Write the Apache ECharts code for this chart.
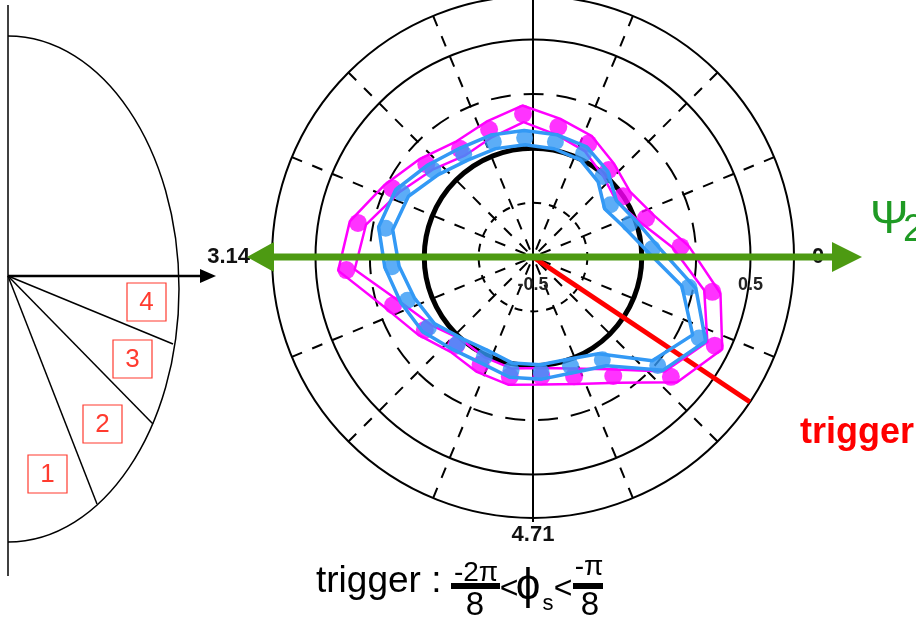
<!DOCTYPE html>
<html>
<head>
<meta charset="utf-8">
<script src="https://cdn.jsdelivr.net/npm/echarts@6/dist/echarts.min.js"></script>
<style>
  html, body { margin: 0; padding: 0; background: #fff; }
  #chart { width: 916px; height: 623px; }
</style>
</head>
<body>
<div id="chart"></div>
<script>
// Azimuthal bins (degrees, measured from the Ψ2 direction, counter-clockwise)
const binAnglesDeg = [4, 19, 34, 49, 64, 79, 94, 109, 124, 139, 154, 169,
                      184, 199, 214, 229, 244, 259, 274, 289, 304, 319, 334, 349];

// Magenta set: central values and half-widths of the band
const magentaValues = [0.18, 0.05, 0.00, 0.03, 0.08, 0.11, 0.16, 0.12, 0.10, 0.15, 0.22, 0.32,
                       0.36, 0.18, 0.10, 0.04, 0.05, 0.06, 0.05, 0.08, 0.16, 0.34, 0.43, 0.34];
const magentaErrors = [0.038, 0.038, 0.038, 0.038, 0.038, 0.038, 0.038, 0.038, 0.038, 0.038, 0.038, 0.038,
                       0.038, 0.038, 0.038, 0.038, 0.038, 0.038, 0.038, 0.038, 0.038, 0.038, 0.038, 0.038];

// Blue set: central values and half-widths of the band
const blueValues = [0.05, -0.03, -0.07, -0.01, 0.03, 0.04, 0.05, 0.06, 0.07, 0.11, 0.17, 0.19,
                    0.15, 0.11, 0.08, 0.03, 0.01, 0.03, 0.03, 0.03, 0.07, 0.26, 0.35, 0.23];
const blueErrors = [0.033, 0.033, 0.033, 0.033, 0.033, 0.033, 0.033, 0.033, 0.033, 0.033, 0.033, 0.033,
                    0.033, 0.033, 0.033, 0.033, 0.033, 0.033, 0.033, 0.033, 0.033, 0.033, 0.033, 0.033];

// Trigger window in φs (radians): -2π/8 .. -π/8, line drawn at its middle
const triggerWindow = [-2 * Math.PI / 8, -Math.PI / 8];

// Tick labels
const angleTickLabels = ['0', '1.57', '3.14', '4.71'];
const radialTickLabels = ['-0.5', '0.5'];

// Radial scale and reference rings
const RMIN = -0.5, RMAX = 0.7;
const rings = [
  { value: -0.25, width: 2, type: [8, 8] },
  { value: 0,     width: 5, type: 'solid' },
  { value: 0.25,  width: 2, type: [20, 13] },
  { value: 0.5,   width: 2, type: 'solid' }
];

// ---- layout ----
const CX = 533, CY = 257, R = 261;
const FONT = 'Liberation Sans, Arial, Helvetica, sans-serif';
const DEG = Math.PI / 180;
const TWO_PI = 2 * Math.PI;
const rPix = v => R * (v - RMIN) / (RMAX - RMIN);

const chart = echarts.init(document.getElementById('chart'), null, { renderer: 'canvas' });

function rail(vals, errs, sign, color, width, z) {
  const pts = binAnglesDeg.map((a, i) => [vals[i] + sign * errs[i], a * DEG]);
  pts.push(pts[0]);
  return {
    type: 'line', coordinateSystem: 'polar', polarIndex: 0, data: pts,
    symbol: 'none', silent: true, z: z,
    lineStyle: { color: color, width: width }
  };
}
function dots(vals, color, size, z) {
  return {
    type: 'scatter', coordinateSystem: 'polar', polarIndex: 0,
    data: binAnglesDeg.map((a, i) => [vals[i], a * DEG]),
    symbol: 'circle', symbolSize: size, silent: true, z: z,
    itemStyle: { color: color }
  };
}

const hidden = {
  axisLine: { show: false }, axisTick: { show: false },
  axisLabel: { show: false }, splitLine: { show: false }
};

const trigAngle = TWO_PI + (triggerWindow[0] + triggerWindow[1]) / 2;

// Angle labels: side labels get extra padding away from the circle
const labelFont = { fontSize: 22, fontWeight: 'bold', color: '#111', fontFamily: FONT };
const angleRich = {
  r: Object.assign({ padding: [0, 0, 0, 12] }, labelFont),
  l: Object.assign({ padding: [0, 16, 0, 0] }, labelFont),
  v: Object.assign({}, labelFont)
};
function angleLabel(v) {
  const k = Math.round(v / (Math.PI / 2));
  if (k >= angleTickLabels.length) return '';
  const key = k === 0 ? 'r' : (k === 2 ? 'l' : 'v');
  return '{' + key + '|' + angleTickLabels[k] + '}';
}

// Annotations: Ψ2 arrow, trigger labels, sector sketch on the left
const green = '#4d9a12';
const boxRed = '#ff3b2f';
const graphics = [
  // Ψ2 axis with two arrow heads
  { type: 'line', z: 100, shape: { x1: 272, y1: CY, x2: 836, y2: CY }, style: { stroke: green, lineWidth: 7 } },
  { type: 'polygon', z: 100, shape: { points: [[247, CY], [274, CY - 15], [274, CY + 15]] }, style: { fill: green } },
  { type: 'polygon', z: 100, shape: { points: [[862, CY], [832, CY - 15], [832, CY + 15]] }, style: { fill: green } },
  { type: 'text', z: 100, x: 870, y: 220, style: { text: 'Ψ', fill: '#1f9a24', font: '46px ' + FONT, verticalAlign: 'middle' } },
  { type: 'text', z: 100, x: 903, y: 231, style: { text: '2', fill: '#1f9a24', font: '38px ' + FONT, verticalAlign: 'middle' } },
  { type: 'text', z: 100, x: 800, y: 433, style: { text: 'trigger', fill: '#ff0000', font: 'bold 36px ' + FONT, verticalAlign: 'middle' } },

  // bottom caption: trigger : -2π/8 < φs < -π/8
  { type: 'text', z: 100, x: 316, y: 582, style: { text: 'trigger :', fill: '#000', font: '37px ' + FONT, verticalAlign: 'middle' } },
  { type: 'text', z: 100, x: 476, y: 573, style: { text: '-2π', fill: '#000', font: '28px ' + FONT, align: 'center', verticalAlign: 'middle' } },
  { type: 'rect', z: 100, shape: { x: 451, y: 583, width: 49, height: 6 }, style: { fill: '#000' } },
  { type: 'text', z: 100, x: 475, y: 606, style: { text: '8', fill: '#000', font: '33px ' + FONT, align: 'center', verticalAlign: 'middle' } },
  { type: 'text', z: 100, x: 509, y: 589, style: { text: '<', fill: '#000', font: '32px ' + FONT, align: 'center', verticalAlign: 'middle' } },
  { type: 'text', z: 100, x: 528, y: 587, style: { text: 'ϕ', fill: '#000', font: '44px ' + FONT, align: 'center', verticalAlign: 'middle' } },
  { type: 'text', z: 100, x: 548, y: 604, style: { text: 's', fill: '#000', font: '22px ' + FONT, align: 'center', verticalAlign: 'middle' } },
  { type: 'text', z: 100, x: 563, y: 589, style: { text: '<', fill: '#000', font: '32px ' + FONT, align: 'center', verticalAlign: 'middle' } },
  { type: 'text', z: 100, x: 589, y: 567, style: { text: '-π', fill: '#000', font: '28px ' + FONT, align: 'center', verticalAlign: 'middle' } },
  { type: 'rect', z: 100, shape: { x: 573, y: 583, width: 30, height: 6 }, style: { fill: '#000' } },
  { type: 'text', z: 100, x: 590, y: 606, style: { text: '8', fill: '#000', font: '33px ' + FONT, align: 'center', verticalAlign: 'middle' } },

  // sector sketch: axis, half ellipse (two quarter curves), arrow and sector edges
  { type: 'line', z: 100, shape: { x1: 8, y1: 5, x2: 8, y2: 576 }, style: { stroke: '#000', lineWidth: 1.5 } },
  { type: 'bezierCurve', z: 100, shape: { x1: 8, y1: 36, cpx1: 102.4, cpy1: 36, cpx2: 179, cpy2: 149.3, x2: 179, y2: 289 }, style: { stroke: '#000', lineWidth: 1.5, fill: null } },
  { type: 'bezierCurve', z: 100, shape: { x1: 179, y1: 289, cpx1: 179, cpy1: 428.7, cpx2: 102.4, cpy2: 542, x2: 8, y2: 542 }, style: { stroke: '#000', lineWidth: 1.5, fill: null } },
  { type: 'line', z: 100, shape: { x1: 8, y1: 276, x2: 202, y2: 276 }, style: { stroke: '#000', lineWidth: 2.5 } },
  { type: 'polygon', z: 100, shape: { points: [[216, 276], [200, 269], [200, 283]] }, style: { fill: '#000' } },
  { type: 'line', z: 100, shape: { x1: 8, y1: 276, x2: 173, y2: 344 }, style: { stroke: '#000', lineWidth: 1.5 } },
  { type: 'line', z: 100, shape: { x1: 8, y1: 276, x2: 153, y2: 424 }, style: { stroke: '#000', lineWidth: 1.5 } },
  { type: 'line', z: 100, shape: { x1: 8, y1: 276, x2: 97, y2: 504 }, style: { stroke: '#000', lineWidth: 1.5 } }
];
// numbered boxes in the sketch
const sectorBoxes = [
  { label: '1', x: 28, y: 455 },
  { label: '2', x: 83, y: 405 },
  { label: '3', x: 113, y: 340 },
  { label: '4', x: 127, y: 283 }
];
sectorBoxes.forEach(b => {
  graphics.push({ type: 'rect', z: 100, shape: { x: b.x, y: b.y, width: 39, height: 38 }, style: { stroke: boxRed, lineWidth: 1.2, fill: null } });
  graphics.push({ type: 'text', z: 101, x: b.x + 19.5, y: b.y + 20, style: { text: b.label, fill: boxRed, font: '26px ' + FONT, align: 'center', verticalAlign: 'middle' } });
});

// polar 0: data + dashed spokes + outer circle; polar 1: solid spokes + angle labels;
// polars 2..: one reference ring each
const polars = [{ center: [CX, CY], radius: R }, { center: [CX, CY], radius: R }];
const angleAxes = [
  {
    polarIndex: 0, type: 'value', min: 0, max: TWO_PI, interval: Math.PI / 8,
    startAngle: 0, clockwise: false,
    axisLine: { show: true, lineStyle: { color: '#000', width: 2 } },
    axisTick: { show: false }, axisLabel: { show: false },
    splitLine: { show: true, lineStyle: { color: '#000', width: 2, type: [11, 11] } }
  },
  {
    polarIndex: 1, type: 'value', min: 0, max: TWO_PI, interval: Math.PI / 2,
    startAngle: 0, clockwise: false,
    axisLine: { show: false },
    axisTick: { show: true, length: 4, lineStyle: { color: '#000', width: 2 } },
    axisLabel: { show: true, margin: 6, formatter: angleLabel, rich: angleRich },
    splitLine: { show: true, lineStyle: { color: '#000', width: 2, type: 'solid' } }
  }
];
const radiusAxes = [
  {
    polarIndex: 0, type: 'value', min: RMIN, max: RMAX, interval: 0.25,
    axisLine: { show: false }, axisTick: { show: false },
    axisLabel: {
      show: true, margin: -37, fontSize: 18, fontWeight: 'bold', color: '#222', fontFamily: FONT,
      formatter: v => radialTickLabels.find(t => Math.abs(parseFloat(t) - v) < 1e-6) || ''
    },
    splitLine: { show: false }
  },
  Object.assign({}, hidden, { polarIndex: 1, type: 'value', min: RMIN, max: RMAX })
];
rings.forEach((ring, i) => {
  const idx = i + 2;
  polars.push({ center: [CX, CY], radius: rPix(ring.value) });
  angleAxes.push(Object.assign({}, hidden, {
    polarIndex: idx, type: 'value', min: 0, max: TWO_PI, startAngle: 0, clockwise: false,
    axisLine: { show: true, lineStyle: { color: '#000', width: ring.width, type: ring.type } }
  }));
  radiusAxes.push(Object.assign({}, hidden, { polarIndex: idx, type: 'value', min: 0, max: 1 }));
});

const option = {
  animation: false,
  backgroundColor: '#fff',
  polar: polars,
  angleAxis: angleAxes,
  radiusAxis: radiusAxes,
  series: [
    {
      type: 'line', coordinateSystem: 'polar', polarIndex: 0, symbol: 'none', silent: true, z: 2,
      data: [[RMIN, trigAngle], [RMAX, trigAngle]],
      lineStyle: { color: '#ff0000', width: 5 }
    },
    rail(magentaValues, magentaErrors, 1, '#ff00ff', 2.5, 3),
    rail(magentaValues, magentaErrors, -1, '#ff00ff', 2.5, 3),
    dots(magentaValues, '#ff00ff', 18, 4),
    rail(blueValues, blueErrors, 1, '#3399f5', 3.5, 5),
    rail(blueValues, blueErrors, -1, '#3399f5', 3.5, 5),
    dots(blueValues, '#3399f5', 17, 6)
  ],
  graphic: { elements: graphics }
};

chart.setOption(option);
</script>
</body>
</html>
